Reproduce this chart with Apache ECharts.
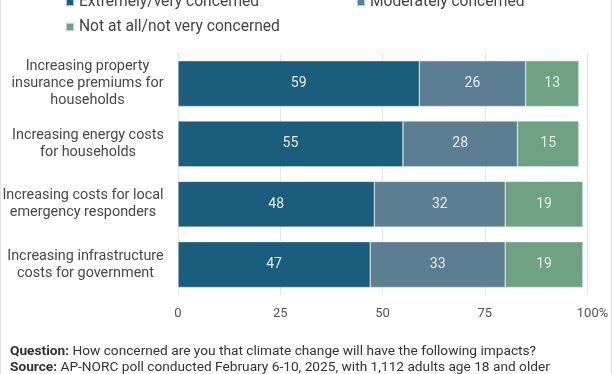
<!DOCTYPE html>
<html><head><meta charset="utf-8">
<script src="https://cdn.jsdelivr.net/npm/echarts@6/dist/echarts.min.js"></script>
<style>
html,body{margin:0;padding:0;background:#fff;}
#c{width:610px;height:374px;border-left:1px solid #e2e2e2;border-right:1px solid #e2e2e2;}
</style></head>
<body><div id="c"></div>
<script>
const categories = [
  "Increasing property\ninsurance premiums for\nhouseholds",
  "Increasing energy costs\nfor households",
  "Increasing costs for local\nemergency responders",
  "Increasing infrastructure\ncosts for government"
];
const seriesNames = ["Extremely/very concerned", "Moderately concerned", "Not at all/not very concerned"];
const extremely = [59, 55, 48, 47];
const moderately = [26, 28, 32, 33];
const notConcerned = [13, 15, 19, 19];
const tickValues = [0, 25, 50, 75, 100];
const colors = ["#1a5d7c", "#5b7e93", "#6ea283"];

const catFont = 14.4;
const ctx = document.createElement('canvas').getContext('2d');
ctx.font = catFont + 'px Roboto';
const rich = {};
categories.forEach((c, i) => {
  const w = Math.max(...c.split('\n').map(l => ctx.measureText(l).width));
  rich['c' + i] = {width: Math.ceil(w), align: 'center', fontFamily: 'Roboto', fontSize: catFont, color: '#484848', lineHeight: 17};
});

const chart = echarts.init(document.getElementById('c'), null, {renderer: 'canvas'});
const mk = (name, data, color) => ({
  name, type: 'bar', stack: 'a', data, barWidth: '76%',
  itemStyle: {color, borderColor: 'rgba(235,235,235,0.7)', borderWidth: 0.6},
  label: {show: true, position: 'inside', color: '#e9e9e9', fontSize: 14, fontFamily: 'Roboto'},
  emphasis: {disabled: true}
});
const legendCommon = {itemWidth: 8, itemHeight: 8, icon: 'rect', itemGap: 0,
  textStyle: {fontFamily: 'Roboto', fontSize: 15.6, color: '#444'}};
chart.setOption({
  animation: false,
  color: colors,
  legend: [
    Object.assign({data: [seriesNames[0]], left: 59, top: -11}, legendCommon),
    Object.assign({data: [seriesNames[1]], left: 350, top: -11}, legendCommon),
    Object.assign({data: [seriesNames[2]], left: 59, top: 14}, legendCommon)
  ],
  grid: {left: 177, right: 24, top: 53.5, bottom: 79.3, containLabel: false, outerBoundsMode: 'none'},
  xAxis: {
    type: 'value', min: 0, max: 100, interval: 25,
    axisLine: {show: false}, axisTick: {show: false},
    splitLine: {lineStyle: {color: '#e6e6e6', width: 1}},
    axisLabel: {
      margin: 13, fontFamily: 'Roboto', fontSize: 13, color: '#555',
      formatter: v => v === 100 ? '{p|100%}' : String(v),
      rich: {p: {fontFamily: 'Roboto', fontSize: 13, color: '#555', padding: [0, 0, 0, 11]}}
    }
  },
  yAxis: {
    type: 'category', data: categories, inverse: true,
    axisLine: {show: false}, axisTick: {show: false},
    axisLabel: {margin: 14, align: 'right', fontFamily: 'Roboto', fontSize: catFont, color: '#484848', lineHeight: 17,
      formatter: (v, i) => v.split('\n').map(l => '{c' + i + '|' + l + '}').join('\n'),
      rich}
  },
  series: [mk(seriesNames[0], extremely, colors[0]), mk(seriesNames[1], moderately, colors[1]), mk(seriesNames[2], notConcerned, colors[2])],
  graphic: [
    {type: 'text', left: 9, top: 344, style: {
      text: '{b|Question:} How concerned are you that climate change will have the following impacts?\n{b|Source:} AP-NORC poll conducted February 6-10, 2025, with 1,112 adults age 18 and older',
      fontFamily: 'Roboto', fontSize: 13.7, fill: '#333', lineHeight: 16,
      rich: {b: {fontFamily: 'Roboto', fontSize: 13.7, fontWeight: 'bold', fill: '#333'}}
    }}
  ]
});
</script></body></html>
